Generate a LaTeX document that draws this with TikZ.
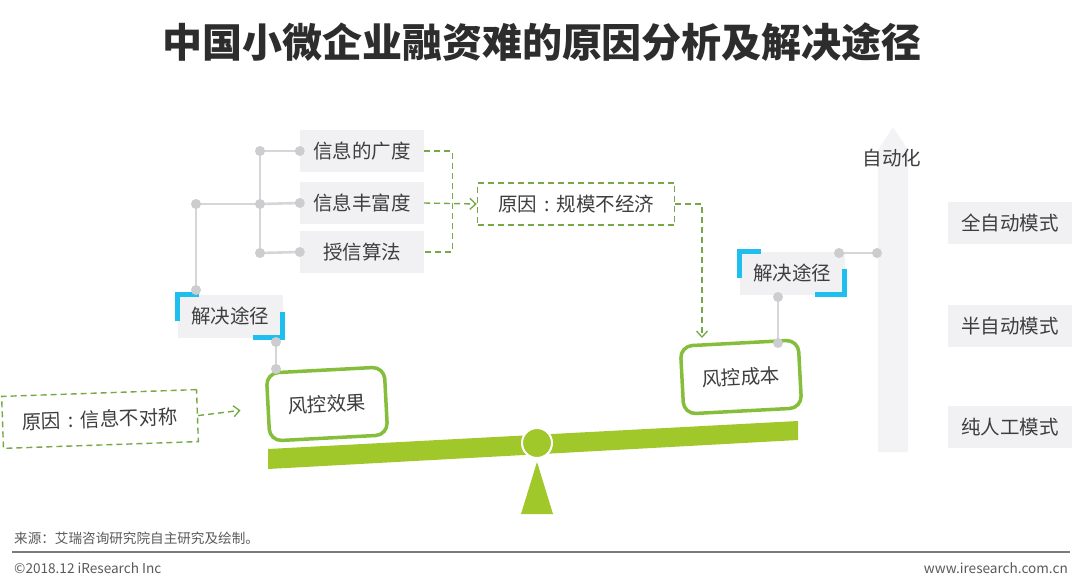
\documentclass[tikz,border=0pt]{standalone}
\usepackage{fontspec}
\setmainfont{Noto Sans CJK SC}
\usetikzlibrary{arrows.meta,calc}
\definecolor{txt}{RGB}{62,62,62}
\definecolor{titlec}{RGB}{45,45,45}
\definecolor{boxgray}{RGB}{241,241,243}
\definecolor{linegray}{RGB}{214,214,216}
\definecolor{dotgray}{RGB}{205,205,208}
\definecolor{dashgreen}{RGB}{118,168,70}
\definecolor{boxgreen}{RGB}{132,190,58}
\definecolor{barg}{RGB}{160,200,42}
\definecolor{bracketblue}{RGB}{30,190,238}
\definecolor{arrowgray}{RGB}{243,243,245}
\definecolor{footc}{RGB}{90,90,90}
\newcommand{\ccolon}{\makebox[1em]{:}}
\begin{document}
\begin{tikzpicture}[x=1pt,y=-1pt,
  gbox/.style={fill=boxgray, minimum width=124pt, minimum height=42pt, inner sep=0pt, text=txt, font=\fontsize{19.5}{20}\selectfont},
  sbox/.style={fill=boxgray, minimum width=105pt, minimum height=43pt, inner sep=0pt, text=txt, font=\fontsize{19.5}{20}\selectfont},
  rbox/.style={draw=dashgreen, dash pattern=on 6pt off 4pt, line width=1.4pt, fill=white, inner sep=0pt, text=txt, font=\fontsize{19.5}{20}\selectfont},
  gnbox/.style={draw=boxgreen, line width=3.5pt, rounded corners=12pt, fill=white, minimum width=118pt, minimum height=68pt, inner sep=0pt, text=txt, font=\fontsize{19.5}{20}\selectfont, rotate=3},
  tree/.style={draw=linegray, line width=2.6pt},
  dsh/.style={draw=dashgreen, dash pattern=on 6pt off 4pt, line width=1.4pt},
  tip/.style={-{Straight Barb[length=6pt,width=11pt,line width=1.3pt]}},
  bracket/.style={draw=bracketblue, line width=4.5pt},
  dotc/.style={fill=dotgray},
  foot/.style={text=footc, font=\fontsize{13.6}{14}\selectfont, inner sep=0pt}
]
\useasboundingbox[fill=white] (0,0) rectangle (1080,584);

% title
\node[text=titlec, font=\fontsize{40}{42}\selectfont\bfseries] (title) at (542,42) {中国小微企业融资难的原因分析及解决途径};

% big automation arrow
\fill[arrowgray] (878,452) -- (878,150) -- (893,127) -- (908,150) -- (908,452) -- cycle;
\node[text=txt, font=\fontsize{19.5}{20}\selectfont] (auto) at (892,158) {自动化};

% gray boxes
\node[gbox] (b1) at (362,151) {信息的广度};
\node[gbox] (b2) at (362,203) {信息丰富度};
\node[gbox] (b3) at (362,252) {授信算法};

\node[gbox] (m1) at (1010,223) {全自动模式};
\node[gbox] (m2) at (1010,326) {半自动模式};
\node[gbox] (m3) at (1010,427) {纯人工模式};

% solution boxes
\node[sbox] (s1) at (230,316) {解决途径};
\node[sbox] (s2) at (792,273) {解决途径};
\draw[bracket] ($(s1.north west)+(0,27)$) -- (s1.north west) -- ++(22,0);
\draw[bracket] ($(s1.south east)+(0,-26)$) -- (s1.south east) -- ++(-30,0);
\draw[bracket] ($(s2.north west)+(0,27)$) -- (s2.north west) -- ++(22,0);
\draw[bracket] ($(s2.south east)+(0,-26)$) -- (s2.south east) -- ++(-30,0);

% tree coordinates
\coordinate (t1) at (260,151);
\coordinate (t2) at (260,204);
\coordinate (t3) at (260,253);
\coordinate (t0) at (196,204);
\coordinate (ts) at (196,290);
\draw[tree] (t1) -- (t3);
\draw[tree] (t1) -- (b1.west);
\draw[tree] (t2) -- (b2.west);
\draw[tree] (t3) -- (b3.west);
\draw[tree] (t0) -- (t2);
\draw[tree] (t0) -- (ts);
\foreach \p in {t1,t2,t3,t0,ts,b1.west,b2.west,b3.west} \fill[dotc] (\p) circle (5pt);

% reason boxes
\node[rbox, minimum width=197pt, minimum height=42pt] (r2) at (576,204) {原因\ccolon 规模不经济};
\node[rbox, minimum width=195pt, minimum height=52pt, rotate=2] (r1) at (100,419) {原因\ccolon 信息不对称};

% green boxes
\node[gnbox] (fx) at (327,404) {风控效果};
\node[gnbox] (fc) at (741,377) {风控成本};

% dashed connectors
\draw[dsh] (b1.east) -- ++(28,0) |- (b3.east);
\draw[dsh,tip] (b2.east) -- (r2.west);
\coordinate (cA) at (702,338);
\draw[dsh,tip] (r2.east) -| (cA);
\draw[dsh,tip,shorten >=26pt] (r1.east) -- (fx.west);

% solution connectors
\coordinate (s1d) at (276,342);
\coordinate (fxt) at (276,369);
\draw[tree] (s1d) -- (fxt);
\coordinate (s2d) at (778,297);
\coordinate (fct) at (778,343);
\draw[tree] (s2d) -- (fct);
\coordinate (s2r) at (839,253);
\coordinate (ar) at (877,253);
\draw[tree] (s2r) -- (ar);
\foreach \p in {s1d,fxt,s2d,fct,s2r,ar} \fill[dotc] (\p) circle (5pt);

% seesaw
\fill[barg] (268,449) -- (798,421) -- (798,440) -- (268,469) -- cycle;
\fill[barg] (537,462) -- (553,514) -- (521,514) -- cycle;
\filldraw[fill=barg, draw=white, line width=2pt] (537,443) circle (15pt);

% footer
\node[foot, anchor=west] (src) at (14,538) {来源：艾瑞咨询研究院自主研究及绘制。};
\coordinate (fl) at (12,552);
\coordinate (fr) at (1070,552);
\draw[draw=footc!80, line width=1.3pt] (fl) -- (fr);
\node[foot, anchor=west] (cpy) at (14,568) {©2018.12 iResearch Inc};
\node[foot, anchor=east] (www) at (1068,568) {www.iresearch.com.cn};
\end{tikzpicture}
\end{document}
